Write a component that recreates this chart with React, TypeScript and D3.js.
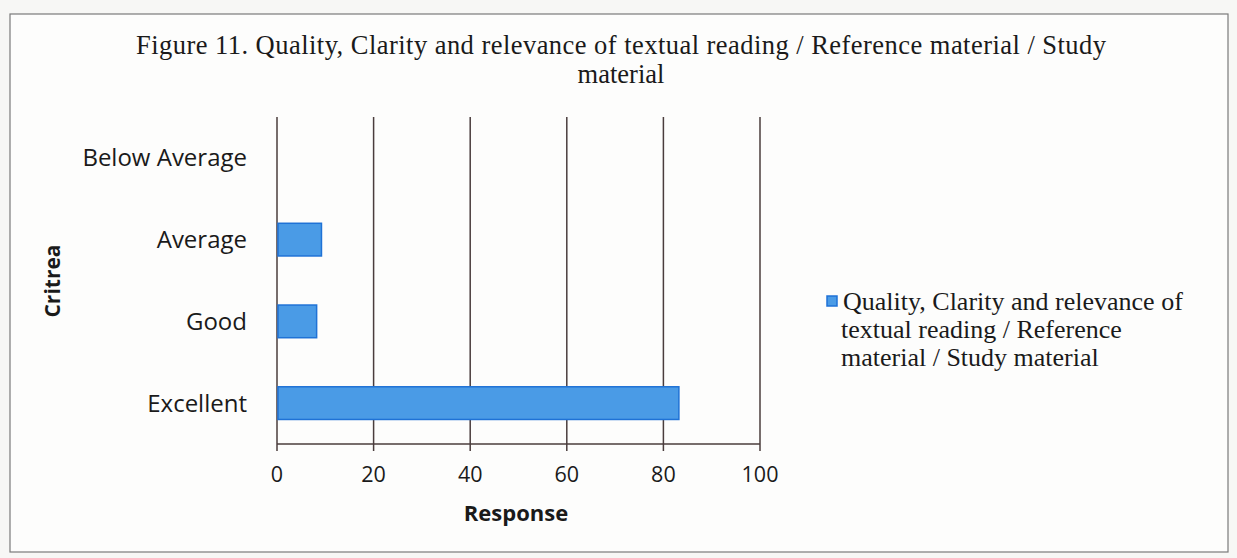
import React from "react";
import * as d3 from "d3";

const categories = ["Below Average", "Average", "Good", "Excellent"];
const values = [0, 9, 8, 83];
const xTicks = [0, 20, 40, 60, 80, 100];
const titleLines = [
  "Figure 11. Quality, Clarity and relevance of textual reading / Reference material / Study",
  "material",
];
const legendLines = [
  "Quality, Clarity and relevance of",
  "textual reading / Reference",
  "material / Study material",
];

export default function App() {
  const W = 1237, H = 558;
  const left = 277, right = 760, top = 117, bottom = 444;
  const x = d3.scaleLinear().domain([0, 100]).range([left, right]);
  const y = d3.scaleBand().domain(categories).range([top, bottom]).paddingInner(0.6).paddingOuter(0.3);
  const yc = d3.scaleBand().domain(categories).range([top, bottom]);
  const grid = "#4a3d3d";
  const sans = "'Open Sans', Carlito, 'Noto Sans', sans-serif";
  const serif = "'Liberation Serif', 'DejaVu Serif', serif";
  return (
    <svg width={W} height={H} style={{ position: "absolute", left: 0, top: 0, background: "#f7f7f5" }}>
      <rect x={10} y={14} width={1218} height={538} fill="#fdfdfc" stroke="#7a7a7a" strokeWidth={1.2} />
      {titleLines.map((t, i) => (
        <text key={i} x={621} y={54 + i * 29} textAnchor="middle" fontFamily={serif} fontSize={26.5} fill="#1a1a1a" textLength={i === 0 ? 970 : undefined}>
          {t}
        </text>
      ))}
      {xTicks.map((t) => (
        <line key={t} x1={x(t)} x2={x(t)} y1={top} y2={bottom + 7} stroke={grid} strokeWidth={1.5} />
      ))}
      <line x1={left} x2={right} y1={bottom} y2={bottom} stroke={grid} strokeWidth={1.5} />
      {categories.map((c, i) =>
        values[i] > 0 ? (
          <rect
            key={c}
            x={x(0) + 1}
            y={y(c)!}
            width={x(values[i]) - x(0)}
            height={y.bandwidth()}
            fill="#4a9be6"
            stroke="#1f72d6"
            strokeWidth={1.5}
          />
        ) : null
      )}
      {categories.map((c) => (
        <text key={c} x={247} y={yc(c)! + yc.bandwidth() / 2} dy="0.35em" textAnchor="end" fontFamily={sans} fontSize={24} fill="#1a1a1a">
          {c}
        </text>
      ))}
      {xTicks.map((t) => (
        <text key={t} x={x(t)} y={482} textAnchor="middle" fontFamily={sans} fontSize={21.5} fill="#1a1a1a">
          {t}
        </text>
      ))}
      <text x={516} y={521} textAnchor="middle" fontFamily={sans} fontSize={22} fontWeight="bold" fill="#1a1a1a">
        Response
      </text>
      <text transform="translate(60,281) rotate(-90)" textAnchor="middle" fontFamily={sans} fontSize={21} fontWeight="bold" fill="#1a1a1a">
        Critrea
      </text>
      <rect x={827} y={296} width={10} height={10} fill="#4a9be6" stroke="#1f72d6" strokeWidth={1.5} />
      {legendLines.map((t, i) => (
        <text key={i} x={i === 0 ? 843 : 841} y={310 + i * 28} fontFamily={serif} fontSize={26} fill="#1a1a1a">
          {t}
        </text>
      ))}
    </svg>
  );
}
